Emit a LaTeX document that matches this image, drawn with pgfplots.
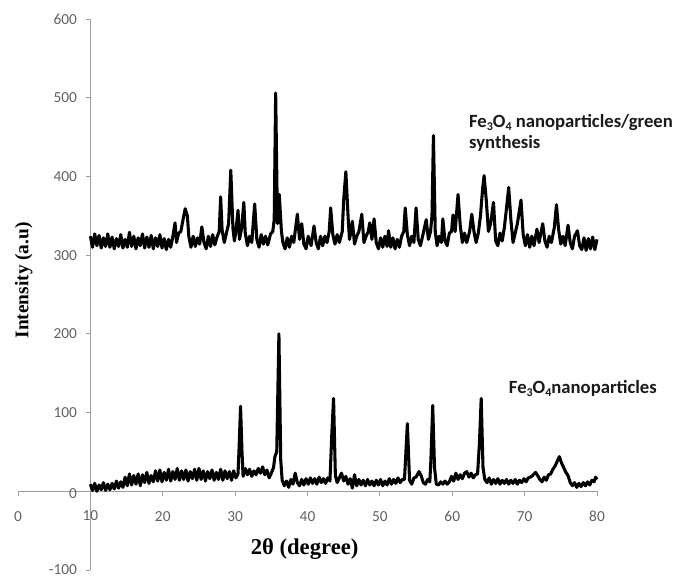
\documentclass[border=0pt]{standalone}
\usepackage{fontspec}
\setmainfont{Liberation Serif}
\newfontfamily\calfont{Carlito}
\usepackage{pgfplots}
\pgfplotsset{compat=1.18}
\usepackage{pgfplotstable}

\pgfplotstableread{
x y
10.0 324
10.3 310
10.6 327
10.9 312
11.2 325
11.5 309
11.8 322
12.1 311
12.4 327
12.7 310
13.0 323
13.3 308
13.6 321
13.9 311
14.2 326
14.5 309
14.8 320
15.1 310
15.4 329
15.7 311
16.0 324
16.3 308
16.6 322
16.9 312
17.2 327
17.5 309
17.8 323
18.1 310
18.4 325
18.7 308
19.0 322
19.3 311
19.6 326
19.9 309
20.2 321
20.5 307
20.8 320
21.1 310
21.4 324
21.7 341
21.9 316
22.2 328
22.5 330
22.8 345
23.1 359
23.4 350
23.6 324
23.9 310
24.2 324
24.5 311
24.8 322
25.1 314
25.4 336
25.7 316
26.0 308
26.3 324
26.6 311
26.9 326
27.2 313
27.5 323
27.8 330
28.0 374
28.2 332
28.5 316
28.8 328
29.1 340
29.4 408
29.7 334
29.9 318
30.1 330
30.4 357
30.6 320
30.9 334
31.2 367
31.4 328
31.7 312
32.0 324
32.3 316
32.7 365
33.0 320
33.3 310
33.6 326
33.9 314
34.2 324
34.5 313
34.9 327
35.2 330
35.4 345
35.6 506
35.85 340
36.1 377
36.4 330
36.6 316
36.9 308
37.2 322
37.5 310
37.8 324
38.1 316
38.6 352
38.9 320
39.2 340
39.5 314
39.8 308
40.1 324
40.5 312
40.9 337
41.2 316
41.5 308
41.8 324
42.1 312
42.4 324
42.7 316
43.0 330
43.2 360
43.5 326
43.8 314
44.1 326
44.4 316
44.8 330
45.0 370
45.3 406
45.6 350
45.8 320
46.0 330
46.2 343
46.5 314
46.8 324
47.1 330
47.5 352
47.8 316
48.1 324
48.4 330
48.6 341
48.9 320
49.2 346
49.5 316
49.8 308
50.1 322
50.4 310
50.7 324
51.0 311
51.2 331
51.5 310
51.8 322
52.1 308
52.4 320
52.7 310
53.0 324
53.3 330
53.5 360
53.8 326
54.1 312
54.4 324
54.7 316
55.0 360
55.3 320
55.6 312
56.0 328
56.4 345
56.7 320
57.0 330
57.2 350
57.4 452
57.65 330
57.9 312
58.2 324
58.5 316
58.7 346
59.0 318
59.3 312
59.6 328
59.9 330
60.1 351
60.4 330
60.8 377
61.1 338
61.4 316
61.7 328
62.0 316
62.4 330
62.7 352
63.0 330
63.3 316
63.6 328
63.9 350
64.2 385
64.4 401
64.7 370
65.0 330
65.3 340
65.7 367
66.0 318
66.3 312
66.6 328
66.9 318
67.2 335
67.5 360
67.8 386
68.1 345
68.4 316
68.7 328
69.0 340
69.5 370
69.8 326
70.1 312
70.4 326
70.7 310
71.0 324
71.3 312
71.7 333
72.0 316
72.5 340
72.8 318
73.1 310
73.4 324
73.7 316
74.1 335
74.4 364
74.7 332
75.0 314
75.3 324
75.6 312
76.0 338
76.3 316
76.6 308
76.9 324
77.3 331
77.6 312
77.9 307
78.2 322
78.5 306
78.8 321
79.1 308
79.4 323
79.7 307
80.0 320
}\green

\pgfplotstableread{
x y
10.0 9
10.3 1
10.6 10
10.9 0
11.2 8
11.5 2
11.8 11
12.1 1
12.4 9
12.7 2
13.0 10
13.3 3
13.6 13
13.9 4
14.2 12
14.5 5
14.8 18
15.1 7
15.4 22
15.7 8
16.0 20
16.3 9
16.6 22
16.9 7
17.2 21
17.5 11
17.8 24
18.1 10
18.4 20
18.7 12
19.0 26
19.3 13
19.6 27
19.9 12
20.2 24
20.5 14
20.8 28
21.1 13
21.4 25
21.7 15
22.0 29
22.3 14
22.6 26
22.9 15
23.2 27
23.5 13
23.8 25
24.1 16
24.4 28
24.7 14
25.0 29
25.3 15
25.6 26
25.9 13
26.2 25
26.5 16
26.8 27
27.1 14
27.4 24
27.7 15
28.0 28
28.3 14
28.6 26
28.9 16
29.2 25
29.5 14
29.8 26
30.1 17
30.4 22
30.55 56
30.75 108
30.95 50
31.1 19
31.4 29
31.7 21
32.0 28
32.3 19
32.6 26
32.9 21
33.2 29
33.5 23
33.8 31
34.1 21
34.4 27
34.7 17
35.0 23
35.3 30
35.5 44
35.75 50
36.05 200
36.3 40
36.5 14
36.8 7
37.1 13
37.4 5
37.7 15
38.0 9
38.3 23
38.6 11
38.9 7
39.2 15
39.5 8
39.8 16
40.1 9
40.4 17
40.7 10
41.0 16
41.3 9
41.6 18
41.9 11
42.2 16
42.5 10
42.8 17
43.1 13
43.35 71
43.6 118
43.85 20
44.1 11
44.4 17
44.7 23
45.0 13
45.3 19
45.6 9
45.9 16
46.2 4
46.5 21
46.8 7
47.1 15
47.4 8
47.7 14
48.0 7
48.3 15
48.6 8
48.9 13
49.2 7
49.5 14
49.8 8
50.1 15
50.4 7
50.7 13
51.0 8
51.3 16
51.6 9
51.9 15
52.2 10
52.5 17
52.8 11
53.1 15
53.4 15
53.8 86
54.1 14
54.4 9
54.7 17
55.0 18
55.4 25
55.7 20
56.0 11
56.3 9
56.6 15
56.9 12
57.05 40
57.3 109
57.55 30
57.8 9
58.1 8
58.4 12
58.7 9
59.0 13
59.3 9
59.6 12
59.9 19
60.2 13
60.5 23
60.8 15
61.1 21
61.4 16
61.7 23
62.0 25
62.3 18
62.6 23
62.9 17
63.2 21
63.5 22
63.75 60
64.0 118
64.25 30
64.5 15
64.8 11
65.1 17
65.4 9
65.7 15
66.0 10
66.3 16
66.6 9
66.9 14
67.2 10
67.5 15
67.8 9
68.1 14
68.4 10
68.7 15
69.0 9
69.3 14
69.6 11
69.9 16
70.2 12
70.5 17
70.8 18
71.1 20
71.5 24
71.8 20
72.1 15
72.4 12
72.7 18
73.0 14
73.3 21
73.6 22
73.9 28
74.2 32
74.5 38
74.8 44
75.1 36
75.4 30
75.7 24
76.0 20
76.3 11
76.6 7
76.9 11
77.2 5
77.5 10
77.8 6
78.1 11
78.4 7
78.7 12
79.0 8
79.3 14
79.6 12
79.8 18
80.0 15
}\plain

\newcommand\sub[1]{\raisebox{-0.35ex}{\fontsize{9}{9}\selectfont #1}}

\begin{document}
\begin{tikzpicture}
\begin{axis}[
  scale only axis,
  width=434.25pt, height=413.25pt,
  xmin=-10, xmax=70, ymin=-100, ymax=600,
  axis lines=middle,
  axis line style={draw=black!38, line width=0.6pt, -},
  xtick={-10,0,...,70},
  xticklabels={0,10,20,30,40,50,60,70,80},
  ytick={-100,0,...,600},
  tick align=outside,
  major tick length=3.5pt,
  tick style={draw=black!38, line width=0.6pt},
  /pgf/number format/assume math mode=true,
  ticklabel style={font=\calfont\fontsize{11.5}{13}\selectfont, text=black!62},
  xticklabel style={yshift=-8pt},
  yticklabel style={xshift=-3pt},
  clip=false,
]
\addplot[black, line width=2.3pt, line join=round, x filter/.expression={x-10}] table[x=x,y=y] {\green};
\addplot[black, line width=2.3pt, line join=round, x filter/.expression={x-10}] table[x=x,y=y] {\plain};

\node[font=\calfont\fontsize{11.5}{13}\selectfont, text=black!62] at ([yshift=-18pt]axis cs:0,0) {10};
\node[anchor=east, font=\calfont\fontsize{11.5}{13}\selectfont, text=black!62] at ([xshift=-6.5pt,yshift=-1.5pt]axis cs:0,0) {0};

\node[rotate=90, font=\bfseries\fontsize{14.5}{16}\selectfont] at (axis cs:-9.2,268) {Intensity (a.u)};
\node[font=\bfseries\fontsize{17}{19}\selectfont] at (axis cs:29.6,-74) {2θ (degree)};
\node[anchor=west, align=left, inner sep=0pt, font=\calfont\bfseries\fontsize{14}{15.75}\selectfont, text=black!90] at (axis cs:52.3,455) {Fe\sub{3}O\sub{4} nanoparticles/green\\synthesis};
\node[anchor=west, inner sep=0pt, font=\calfont\bfseries\fontsize{14}{15.75}\selectfont, text=black!90] at (axis cs:57.8,131) {Fe\sub{3}O\sub{4}nanoparticles};

\coordinate (A) at (axis cs:-10,-100);
\coordinate (B) at (axis cs:70,600);
\end{axis}
\pgfresetboundingbox
\path ([shift={(-13.5pt,-6pt)}]A) rectangle ([shift={(57pt,14.25pt)}]B);
\end{tikzpicture}
\end{document}
